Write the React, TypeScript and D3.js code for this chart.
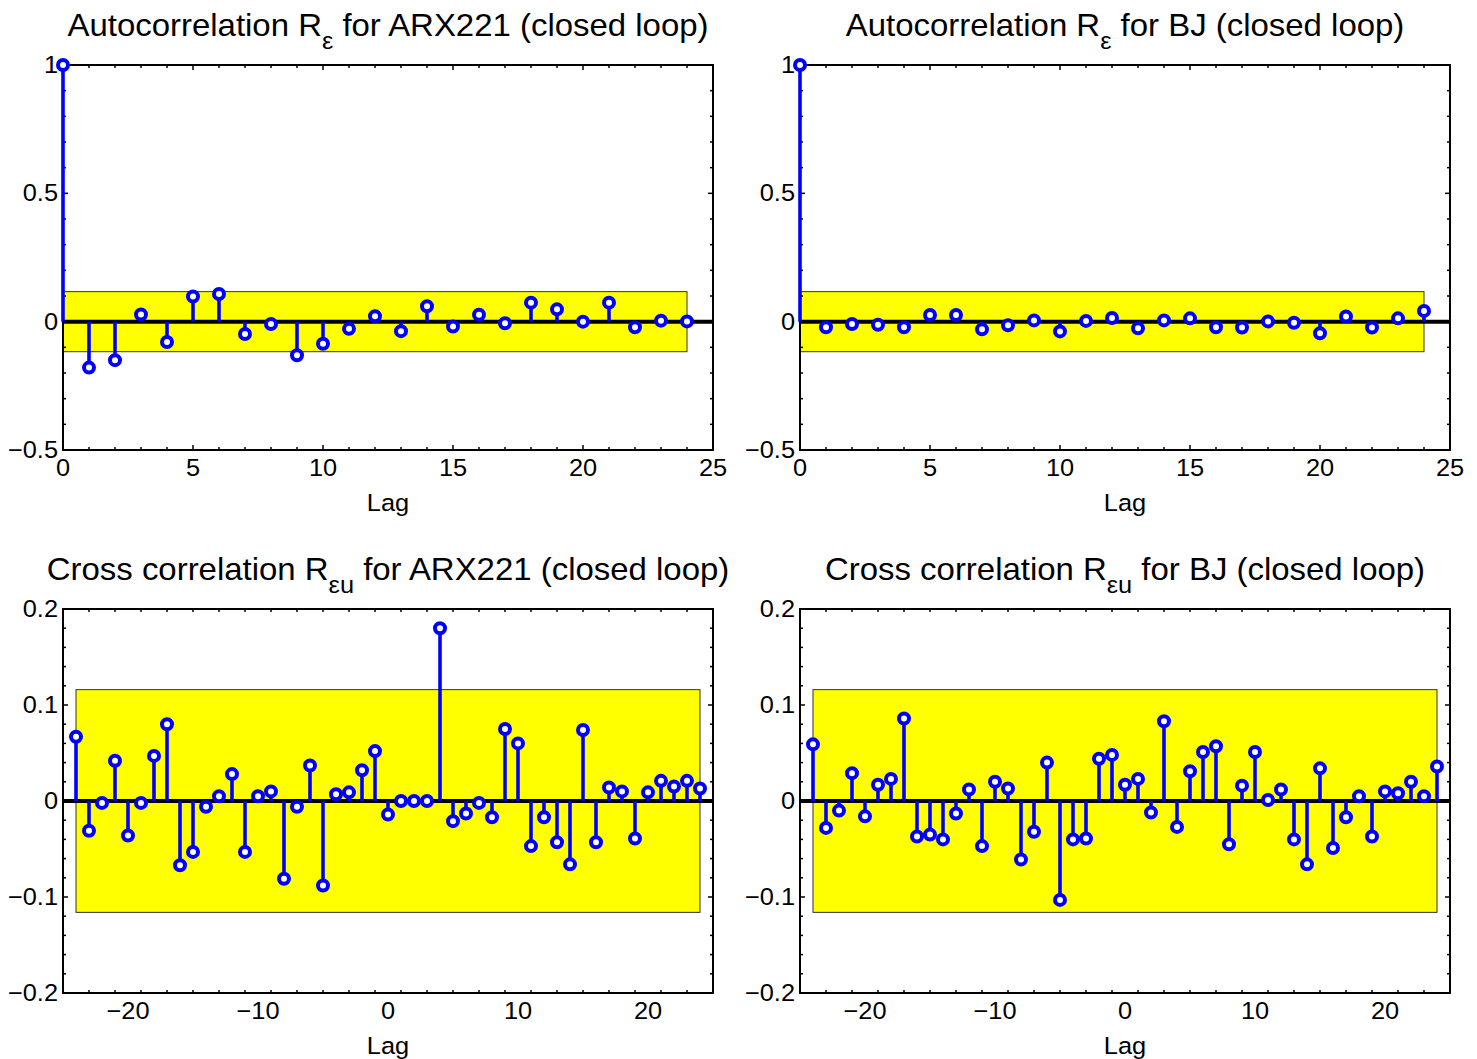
import React from 'react';
import * as d3 from 'd3';

// residual autocorrelation, lags 0..24
const autoLags = d3.range(0, 25);
const arxAuto = [1, -0.179, -0.15, 0.028, -0.079, 0.098, 0.108, -0.048, -0.009, -0.131, -0.086, -0.028, 0.021,
  -0.037, 0.06, -0.019, 0.027, -0.006, 0.074, 0.048, 0.0, 0.074, -0.022, 0.004, 0.001];
const bjAuto = [1, -0.022, -0.009, -0.012, -0.022, 0.026, 0.026, -0.03, -0.014, 0.005, -0.038, 0.003, 0.014,
  -0.026, 0.005, 0.013, -0.022, -0.023, 0.001, -0.004, -0.045, 0.02, -0.023, 0.013, 0.042];

// cross correlation residual / input, lags -24..24
const crossLags = d3.range(-24, 25);
const arxCross = [0.067, -0.031, -0.002, 0.042, -0.036, -0.002, 0.047, 0.08, -0.067, -0.053, -0.006, 0.005, 0.028,
  -0.053, 0.005, 0.01, -0.081, -0.006, 0.037, -0.088, 0.007, 0.009, 0.032, 0.052, -0.014,
  0, 0, 0, 0.18, -0.021, -0.013, -0.002, -0.017, 0.075, 0.06, -0.047, -0.017, -0.043, -0.066, 0.074, -0.043,
  0.014, 0.01, -0.039, 0.009, 0.021, 0.015, 0.021, 0.013];
const bjCross = [0.059, -0.028, -0.01, 0.029, -0.016, 0.017, 0.023, 0.086, -0.037, -0.035, -0.04, -0.013, 0.012,
  -0.047, 0.02, 0.013, -0.061, -0.032, 0.04, -0.103, -0.04, -0.039, 0.044, 0.048, 0.017,
  0.023, -0.012, 0.083, -0.027, 0.031, 0.051, 0.057, -0.045, 0.016, 0.051, 0.001, 0.012, -0.04, -0.066, 0.034,
  -0.049, -0.017, 0.005, -0.037, 0.01, 0.008, 0.02, 0.005, 0.036];

// 99% confidence bounds
const autoConf = 0.117;
const crossConf = 0.116;

const autoXTicks = [0, 5, 10, 15, 20, 25];
const autoYTicks = [-0.5, 0, 0.5, 1];
const autoYLabels = ['\u22120.5', '0', '0.5', '1'];
const crossXTicks = [-20, -10, 0, 10, 20];
const crossXLabels = ['\u221220', '\u221210', '0', '10', '20'];
const crossYTicks = [-0.2, -0.1, 0, 0.1, 0.2];
const crossYLabels = ['\u22120.2', '\u22120.1', '0', '0.1', '0.2'];

const FONT = '"Liberation Sans", Arial, Helvetica, sans-serif';
const BLUE = '#0000ff';
const SX = 1.08; // text is a bit wider than plain Arial

type PanelProps = {
  left: number; top: number; width: number; height: number;
  xDomain: [number, number]; yDomain: [number, number];
  xTicks: number[]; xLabels: string[]; xMinor: number;
  yTicks: number[]; yLabels: string[]; yMinor: number;
  lags: number[]; values: number[]; conf: number;
  titleA: string; sub: string; titleB: string;
};

const Label = ({ x, y, size, anchor, children }: any) => (
  <g transform={`translate(${x},${y}) scale(${SX},1)`}>
    <text fontSize={size} textAnchor={anchor}>{children}</text>
  </g>
);

const Panel = (p: PanelProps) => {
  const x = d3.scaleLinear().domain(p.xDomain).range([p.left, p.left + p.width]);
  const y = d3.scaleLinear().domain(p.yDomain).range([p.top + p.height, p.top]);
  const right = p.left + p.width;
  const bottom = p.top + p.height;
  const xMinor = d3.range(p.xDomain[0], p.xDomain[1] + 1e-9, p.xMinor);
  const yMinor = d3.range(p.yDomain[0], p.yDomain[1] + 1e-9, p.yMinor);
  const lagMin = d3.min(p.lags) as number;
  const lagMax = d3.max(p.lags) as number;
  const cx = (p.left + right) / 2;

  return (
    <g fontFamily={FONT}>
      <rect x={x(lagMin)} y={y(p.conf)} width={x(lagMax) - x(lagMin)} height={y(-p.conf) - y(p.conf)}
        fill="#ffff00" stroke="#333" strokeWidth={1} />
      <rect x={p.left} y={p.top} width={p.width} height={p.height} fill="none" stroke="#000" strokeWidth={2} />
      {xMinor.map((t, i) => {
        const major = p.xTicks.some((m) => Math.abs(m - t) < 1e-9);
        const len = major ? 5 : 3;
        return (
          <g key={'xt' + i} stroke="#000" strokeWidth={1.5}>
            <line x1={x(t)} x2={x(t)} y1={bottom} y2={bottom - len} />
            <line x1={x(t)} x2={x(t)} y1={p.top} y2={p.top + len} />
          </g>
        );
      })}
      {yMinor.map((t, i) => {
        const major = p.yTicks.some((m) => Math.abs(m - t) < 1e-9);
        const len = major ? 5 : 3;
        return (
          <g key={'yt' + i} stroke="#000" strokeWidth={1.5}>
            <line x1={p.left} x2={p.left + len} y1={y(t)} y2={y(t)} />
            <line x1={right} x2={right - len} y1={y(t)} y2={y(t)} />
          </g>
        );
      })}
      {p.xTicks.map((t, i) => (
        <Label key={'xl' + i} x={x(t)} y={bottom + 26} size={23.5} anchor="middle">{p.xLabels[i]}</Label>
      ))}
      {p.yTicks.map((t, i) => (
        <Label key={'yl' + i} x={p.left - 5} y={y(t) + 8} size={23.5} anchor="end">{p.yLabels[i]}</Label>
      ))}
      <Label x={cx} y={bottom + 61} size={23.5} anchor="middle">Lag</Label>
      <Label x={cx} y={p.top - 29} size={30.5} anchor="middle">
        {p.titleA}
        <tspan fontSize={23.5} dy={13}>{p.sub}</tspan>
        <tspan dy={-13}>{' ' + p.titleB}</tspan>
      </Label>
      <line x1={p.left} x2={right} y1={y(0)} y2={y(0)} stroke="#000" strokeWidth={4} />
      {p.lags.map((l, i) => (
        <line key={'s' + i} x1={x(l)} x2={x(l)} y1={y(0)} y2={y(p.values[i])} stroke={BLUE} strokeWidth={3.6} />
      ))}
      {p.lags.map((l, i) => (
        <circle key={'m' + i} cx={x(l)} cy={y(p.values[i])} r={5} fill="#fff" stroke={BLUE} strokeWidth={4} />
      ))}
    </g>
  );
};

const App = () => {
  const autoCommon = {
    width: 650, height: 385, xDomain: [0, 25] as [number, number], yDomain: [-0.5, 1] as [number, number],
    xTicks: autoXTicks, xLabels: autoXTicks.map(String), xMinor: 1,
    yTicks: autoYTicks, yLabels: autoYLabels, yMinor: 0.1, lags: autoLags, conf: autoConf,
  };
  const crossCommon = {
    width: 650, height: 384, xDomain: [-25, 25] as [number, number], yDomain: [-0.2, 0.2] as [number, number],
    xTicks: crossXTicks, xLabels: crossXLabels, xMinor: 2,
    yTicks: crossYTicks, yLabels: crossYLabels, yMinor: 0.02, lags: crossLags, conf: crossConf,
  };
  return (
    <div style={{ position: 'absolute', left: 0, top: 0 }}>
      <svg width={1477} height={1059} style={{ display: 'block', background: '#fff' }}>
        <Panel {...autoCommon} left={63} top={65} values={arxAuto}
          titleA="Autocorrelation R" sub="ε" titleB="for ARX221 (closed loop)" />
        <Panel {...autoCommon} left={800} top={65} values={bjAuto}
          titleA="Autocorrelation R" sub="ε" titleB="for BJ (closed loop)" />
        <Panel {...crossCommon} left={63} top={609} values={arxCross}
          titleA="Cross correlation R" sub="εu" titleB="for ARX221 (closed loop)" />
        <Panel {...crossCommon} left={800} top={609} values={bjCross}
          titleA="Cross correlation R" sub="εu" titleB="for BJ (closed loop)" />
      </svg>
    </div>
  );
};

export default App;
